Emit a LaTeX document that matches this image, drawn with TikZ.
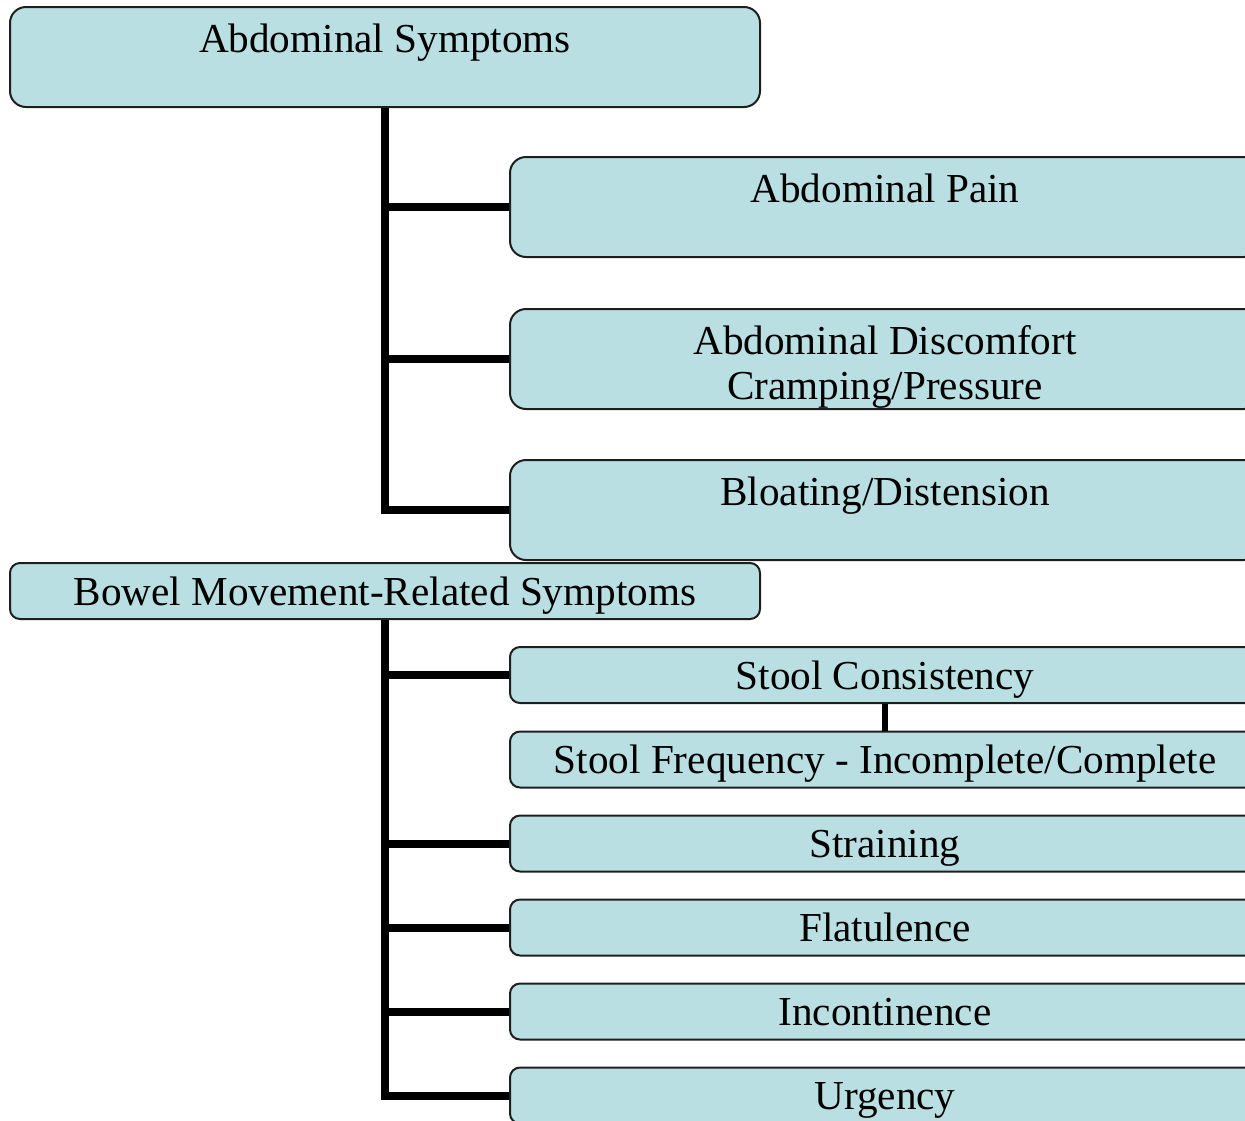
\documentclass[tikz,border=0pt]{standalone}
\usepackage{fontspec}
\setmainfont{Liberation Serif}
\usepackage{tikz}
\definecolor{boxfill}{RGB}{186,223,226}
\definecolor{boxedge}{RGB}{30,30,30}

\begin{document}
\begin{tikzpicture}[x=0.5pt, y=-0.5pt,
  box/.style={draw=boxedge, line width=1pt, fill=boxfill, minimum width=375pt,
    inner xsep=0pt, inner ysep=0pt, font=\fontsize{20.6}{22.5}\selectfont, align=center},
  bigbox/.style={box, rounded corners=8pt, text height=22.5pt, text depth=27.5pt},
  smallbox/.style={box, rounded corners=5pt, text height=21pt, text depth=7pt},
  trunk/.style={line width=4pt, black}]
  \useasboundingbox (0,0) rectangle (1245,1120);
  \clip (0,0) rectangle (1245,1120);
  % abdominal group
  \node[bigbox] (abd) at (385,57) {Abdominal Symptoms};
  \node[bigbox] (pain) at (885,207) {Abdominal Pain};
  \node[bigbox, text height=45pt, text depth=5pt] (discomf) at (885,359) {Abdominal Discomfort\\Cramping/Pressure};
  \node[bigbox] (bloat) at (885,510) {Bloating/Distension};
  \draw[trunk] (abd.south) |- (bloat.west);
  \draw[trunk] (abd.south |- pain.west) -- (pain.west);
  \draw[trunk] (abd.south |- discomf.west) -- (discomf.west);
  % bowel movement group
  \node[smallbox] (bowel) at (385,591) {Bowel Movement-Related Symptoms};
  \node[smallbox] (consist) at (885,675) {Stool Consistency};
  \node[smallbox] (freq) at (885,759.5) {Stool Frequency - Incomplete/Complete};
  \node[smallbox] (strain) at (885,843.5) {Straining};
  \node[smallbox] (flat) at (885,927.5) {Flatulence};
  \node[smallbox] (incont) at (885,1011.5) {Incontinence};
  \node[smallbox] (urg) at (885,1095.5) {Urgency};
  \draw[trunk] (bowel.south) |- (urg.west);
  \foreach \n in {consist, strain, flat, incont}
    \draw[trunk] (bowel.south |- \n.west) -- (\n.west);
  \draw[line width=3pt] (consist.south) -- (freq.north);
\end{tikzpicture}
\end{document}
